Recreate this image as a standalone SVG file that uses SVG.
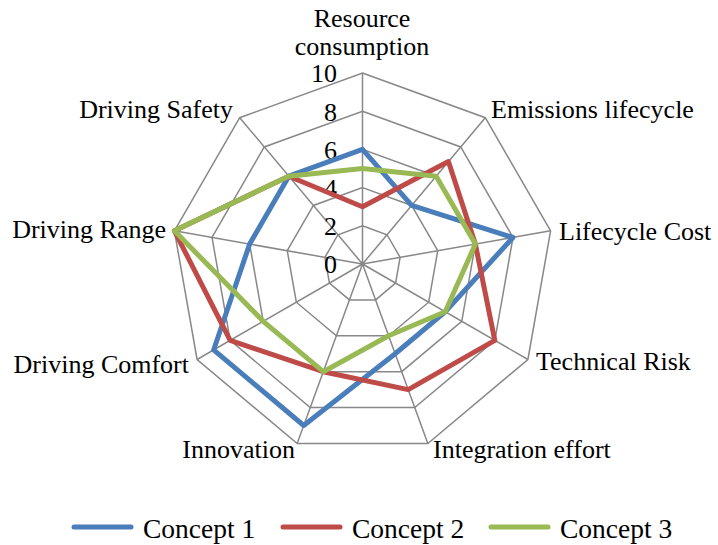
<svg xmlns="http://www.w3.org/2000/svg" width="718" height="545" viewBox="0 0 718 545">
<style>
.grid{fill:none;stroke:#888888;stroke-width:1.5}
.s{fill:none;stroke-width:5;stroke-linejoin:round}
.c1{stroke:#4A7EBB}
.c2{stroke:#BE4B48}
.c3{stroke:#98B954}
text{font-family:"Liberation Serif","Times New Roman",serif;font-size:26px;fill:#000}
.num{text-anchor:end}
.leg{font-size:27.5px}
</style>
<rect width="718" height="545" fill="#fff"/>
<g id="grid">
<polygon class="grid" points="362.5,73 485.27,117.69 550.6,230.83 527.91,359.5 427.83,443.48 297.17,443.48 197.09,359.5 174.4,230.83 239.73,117.69"/>
<polygon class="grid" points="362.5,111.2 460.72,146.95 512.98,237.47 494.83,340.4 414.76,407.58 310.24,407.58 230.17,340.4 212.02,237.47 264.28,146.95"/>
<polygon class="grid" points="362.5,149.4 436.16,176.21 475.36,244.1 461.75,321.3 401.7,371.69 323.3,371.69 263.25,321.3 249.64,244.1 288.84,176.21"/>
<polygon class="grid" points="362.5,187.6 411.61,205.47 437.74,250.73 428.66,302.2 388.63,335.79 336.37,335.79 296.34,302.2 287.26,250.73 313.39,205.47"/>
<polygon class="grid" points="362.5,225.8 387.05,234.74 400.12,257.37 395.58,283.1 375.57,299.9 349.43,299.9 329.42,283.1 324.88,257.37 337.95,234.74"/>
<path class="grid" d="M362.5,264L362.5,73M362.5,264L485.27,117.69M362.5,264L550.6,230.83M362.5,264L527.91,359.5M362.5,264L427.83,443.48M362.5,264L297.17,443.48M362.5,264L197.09,359.5M362.5,264L174.4,230.83M362.5,264L239.73,117.69"/>
</g>
<g id="scale">
<text class="num" x="337" y="82">10</text>
<text class="num" x="337" y="120.5">8</text>
<text class="num" x="337" y="158.7">6</text>
<text class="num" x="337" y="196.9">4</text>
<text class="num" x="337" y="235.1">2</text>
<text class="num" x="337" y="273.3">0</text>
</g>
<g id="series">
<polygon id="concept1" class="s c1" points="362.5,149.4 411.61,205.47 512.98,237.47 445.21,311.75 395.16,353.74 303.71,425.54 213.63,349.95 249.64,244.1 288.84,176.21"/>
<polygon id="concept2" class="s c2" points="362.5,206.7 448.44,161.58 475.36,244.1 494.83,340.4 408.23,389.64 323.3,371.69 230.17,340.4 174.4,230.83 288.84,176.21"/>
<polygon id="concept3" class="s c3" points="362.5,168.5 436.16,176.21 475.36,244.1 445.21,311.75 388.63,335.79 323.3,371.69 263.25,321.3 174.4,230.83 288.84,176.21"/>
</g>
<g id="labels">
<text x="362" y="27" text-anchor="middle">Resource</text>
<text x="362" y="55" text-anchor="middle">consumption</text>
<text x="491" y="118">Emissions lifecycle</text>
<text x="559" y="240">Lifecycle Cost</text>
<text x="536" y="370">Technical Risk</text>
<text x="433" y="458">Integration effort</text>
<text x="295" y="458" text-anchor="end">Innovation</text>
<text x="189" y="373" text-anchor="end">Driving Comfort</text>
<text x="166" y="238" text-anchor="end">Driving Range</text>
<text x="233" y="118" text-anchor="end">Driving Safety</text>
</g>
<g id="legend">
<line class="s c1" x1="74" y1="527" x2="131" y2="527" stroke-linecap="round"/>
<text class="leg" x="143" y="538">Concept 1</text>
<line class="s c2" x1="283" y1="527" x2="340" y2="527" stroke-linecap="round"/>
<text class="leg" x="352" y="538">Concept 2</text>
<line class="s c3" x1="491" y1="527" x2="548" y2="527" stroke-linecap="round"/>
<text class="leg" x="560" y="538">Concept 3</text>
</g>
</svg>
